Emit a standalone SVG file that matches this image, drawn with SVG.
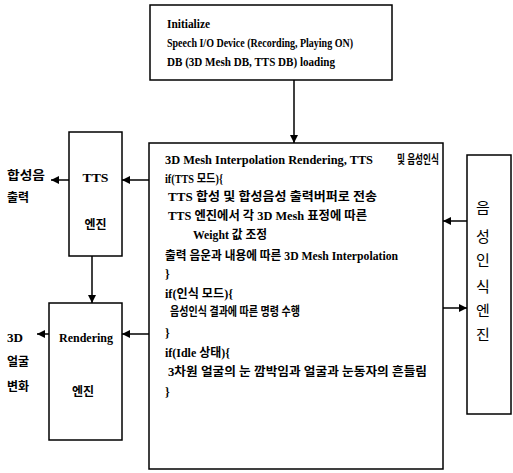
<svg xmlns="http://www.w3.org/2000/svg" width="513" height="473" viewBox="0 0 513 473">
<style>
.box{fill:#fff;stroke:#000;stroke-width:1.5}
.ln{stroke:#000;stroke-width:1.5;fill:none}
.t{font-family:"Liberation Serif","Noto Sans CJK KR",serif;font-size:12px;font-weight:bold;fill:#000}
.h{font-size:13px}
.k{font-family:"Noto Sans CJK KR","Liberation Sans",sans-serif;font-size:12px;font-weight:bold;fill:#000}
.v{font-family:"Noto Sans CJK KR","Liberation Sans",sans-serif;font-size:15px;fill:#000;text-anchor:middle}
</style>
<defs>
<marker id="ah" viewBox="0 0 10 10" refX="10" refY="5" markerWidth="9" markerHeight="8" markerUnits="userSpaceOnUse" orient="auto">
<path d="M0,0 L10,5 L0,10 z" fill="#000"/>
</marker>
</defs>
<g id="connectors">
<line class="ln" x1="294" y1="80" x2="294" y2="143" marker-end="url(#ah)"/>
<line class="ln" x1="149" y1="180" x2="122" y2="180" marker-end="url(#ah)"/>
<line class="ln" x1="69" y1="180" x2="51" y2="180" marker-end="url(#ah)"/>
<line class="ln" x1="92" y1="256" x2="92" y2="303" marker-end="url(#ah)"/>
<line class="ln" x1="149" y1="334" x2="122" y2="334" marker-end="url(#ah)"/>
<line class="ln" x1="49" y1="334" x2="37" y2="334" marker-end="url(#ah)"/>
<line class="ln" x1="467" y1="221" x2="443" y2="221" marker-end="url(#ah)"/>
<line class="ln" x1="443" y1="308" x2="467" y2="308" marker-end="url(#ah)"/>
</g>
<g id="init">
<rect class="box" x="150" y="5" width="242" height="75"/>
<text class="t h" x="167" y="28" textLength="43" lengthAdjust="spacingAndGlyphs">Initialize</text>
<text class="t h" x="167" y="47" textLength="186" lengthAdjust="spacingAndGlyphs">Speech I/O Device (Recording, Playing ON)</text>
<text class="t h" x="167" y="66" textLength="168" lengthAdjust="spacingAndGlyphs">DB (3D Mesh  DB, TTS DB) loading</text>
</g>
<g id="main">
<rect class="box" x="149" y="143" width="294" height="326"/>
<text class="t" x="165" y="164" textLength="208" lengthAdjust="spacingAndGlyphs">3D Mesh Interpolation Rendering, TTS</text>
<text class="t" x="397" y="164" textLength="42" lengthAdjust="spacingAndGlyphs">및 음성인식</text>
<text class="t" x="165" y="183" textLength="58" lengthAdjust="spacingAndGlyphs">if(TTS 모드){</text>
<text class="t" x="168" y="201" textLength="209" lengthAdjust="spacingAndGlyphs">TTS 합성 및 합성음성 출력버퍼로 전송</text>
<text class="t" x="168" y="220" textLength="199" lengthAdjust="spacingAndGlyphs">TTS 엔진에서 각 3D Mesh 표정에 따른</text>
<text class="t" x="193" y="239" textLength="74" lengthAdjust="spacingAndGlyphs">Weight 값 조정</text>
<text class="t" x="165" y="260" textLength="233" lengthAdjust="spacingAndGlyphs">출력 음운과 내용에 따른 3D Mesh Interpolation</text>
<text class="t" x="165" y="278">}</text>
<text class="t" x="165" y="298" textLength="68" lengthAdjust="spacingAndGlyphs">if(인식 모드){</text>
<text class="t" x="170" y="316" textLength="130" lengthAdjust="spacingAndGlyphs">음성인식 결과에 따른 명령 수행</text>
<text class="t" x="165" y="337">}</text>
<text class="t" x="165" y="357" textLength="65" lengthAdjust="spacingAndGlyphs">if(Idle 상태){</text>
<text class="t" x="168" y="376" textLength="259" lengthAdjust="spacingAndGlyphs">3차원 얼굴의 눈 깜박임과 얼굴과 눈동자의 흔들림</text>
<text class="t" x="165" y="396">}</text>
</g>
<g id="tts">
<rect class="box" x="69" y="132" width="53" height="124"/>
<text class="t" x="95.5" y="182" text-anchor="middle" textLength="26" lengthAdjust="spacingAndGlyphs">TTS</text>
<text class="k" x="95.5" y="229" text-anchor="middle">엔진</text>
</g>
<g id="rendering">
<rect class="box" x="49" y="303" width="73" height="137"/>
<text class="t" x="86" y="342" text-anchor="middle" textLength="54" lengthAdjust="spacingAndGlyphs">Rendering</text>
<text class="k" x="83" y="396" text-anchor="middle">엔진</text>
</g>
<g id="asr">
<rect class="box" x="467" y="155" width="44" height="259"/>
<text class="v" x="483" y="213">음</text>
<text class="v" x="483" y="242">성</text>
<text class="v" x="483" y="266">인</text>
<text class="v" x="483" y="292">식</text>
<text class="v" x="483" y="316">엔</text>
<text class="v" x="483" y="340">진</text>
</g>
<g id="labels">
<text class="k" x="7" y="180" textLength="38" lengthAdjust="spacingAndGlyphs">합성음</text>
<text class="k" x="7" y="202">출력</text>
<text class="t" x="7" y="342" textLength="16" lengthAdjust="spacingAndGlyphs">3D</text>
<text class="k" x="7" y="366">얼굴</text>
<text class="k" x="7" y="391">변화</text>
</g>
</svg>
